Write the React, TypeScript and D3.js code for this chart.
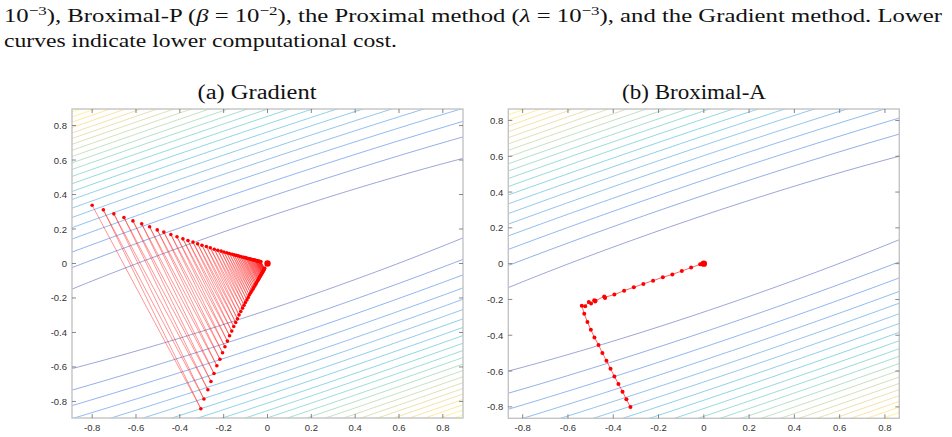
import * as d3 from "d3";
import React, { useRef, useEffect } from "react";

// axis ticks shared by both panels
const tickValues = [-0.8, -0.6, -0.4, -0.2, 0, 0.2, 0.4, 0.6, 0.8];

// objective f(x, y) = a x^2 + 2 b x y + c y^2
const quadA = 0.2056;
const quadB = -0.425;
const quadC = 1.0;

// contour levels
const contourLevels = [
  0.073, 0.146, 0.218, 0.291, 0.364, 0.437, 0.51, 0.582, 0.655, 0.728, 0.801,
  0.874, 0.946, 1.019, 1.092, 1.165, 1.238, 1.31, 1.383, 1.456, 1.529, 1.602,
  1.674, 1.747,
];

// gradient iterates, alternating between the two sides of the valley
const gradUpper = [
  [-0.8, 0.338], [-0.749, 0.311], [-0.701, 0.288], [-0.655, 0.267], [-0.614, 0.247],
  [-0.574, 0.23], [-0.538, 0.213], [-0.503, 0.195], [-0.473, 0.182], [-0.441, 0.168],
  [-0.413, 0.155], [-0.386, 0.143], [-0.363, 0.133], [-0.34, 0.124], [-0.319, 0.114],
  [-0.299, 0.106], [-0.279, 0.099], [-0.261, 0.091], [-0.243, 0.083], [-0.227, 0.077],
  [-0.212, 0.072], [-0.199, 0.067], [-0.186, 0.062], [-0.174, 0.058], [-0.162, 0.054],
  [-0.152, 0.05], [-0.142, 0.047], [-0.133, 0.044], [-0.124, 0.041], [-0.116, 0.038],
  [-0.109, 0.036], [-0.101, 0.034], [-0.095, 0.031], [-0.089, 0.029], [-0.083, 0.027],
  [-0.078, 0.026], [-0.073, 0.024], [-0.068, 0.022], [-0.063, 0.021], [-0.059, 0.02],
  [-0.055, 0.018], [-0.052, 0.017], [-0.049, 0.016], [-0.045, 0.015], [-0.042, 0.014],
  [-0.04, 0.013], [-0.037, 0.012], [-0.035, 0.011], [-0.032, 0.011], [-0.03, 0.01],
];
const gradLower = [
  [-0.304, -0.842], [-0.29, -0.786], [-0.272, -0.732], [-0.258, -0.684], [-0.244, -0.638],
  [-0.231, -0.593], [-0.217, -0.555], [-0.205, -0.518], [-0.194, -0.483], [-0.183, -0.45],
  [-0.173, -0.419], [-0.163, -0.392], [-0.154, -0.365], [-0.145, -0.342], [-0.137, -0.321],
  [-0.13, -0.298], [-0.122, -0.278], [-0.114, -0.259], [-0.107, -0.242], [-0.101, -0.226],
  [-0.094, -0.211], [-0.088, -0.197], [-0.083, -0.183], [-0.077, -0.171], [-0.072, -0.16],
  [-0.067, -0.149], [-0.063, -0.139], [-0.058, -0.13], [-0.054, -0.121], [-0.051, -0.113],
  [-0.047, -0.105], [-0.044, -0.098], [-0.041, -0.092], [-0.039, -0.086], [-0.036, -0.08],
  [-0.034, -0.074], [-0.031, -0.069], [-0.029, -0.065], [-0.027, -0.06], [-0.025, -0.056],
  [-0.024, -0.053], [-0.022, -0.049], [-0.021, -0.046], [-0.019, -0.043], [-0.018, -0.04],
  [-0.017, -0.037], [-0.016, -0.035], [-0.015, -0.032], [-0.014, -0.03], [-0.013, -0.028],
];

// Broximal-A iterates
const broximalPath = [
  [-0.324, -0.801], [-0.342, -0.758], [-0.359, -0.715], [-0.377, -0.672], [-0.395, -0.63],
  [-0.412, -0.587], [-0.43, -0.542], [-0.448, -0.499], [-0.465, -0.454], [-0.483, -0.412],
  [-0.499, -0.369], [-0.514, -0.326], [-0.528, -0.28], [-0.539, -0.235], [-0.524, -0.238],
  [-0.508, -0.214], [-0.498, -0.222], [-0.484, -0.205], [-0.48, -0.212], [-0.478, -0.207],
  [-0.44, -0.183], [-0.436, -0.192], [-0.438, -0.188], [-0.395, -0.173], [-0.352, -0.151],
  [-0.309, -0.132], [-0.267, -0.113], [-0.224, -0.095], [-0.181, -0.076], [-0.139, -0.06],
  [-0.097, -0.041], [-0.056, -0.022], [-0.016, -0.004], [-0.008, -0.002], [0.004, 0.001],
  [0, 0],
];

const parulaStops = [
  "#352a87", "#0f5cdd", "#1481d6", "#06a4ca", "#2eb7a4",
  "#87bf77", "#d1bb59", "#fec832", "#f9fb0e",
];

const panels = [
  { id: "a", title: "(a) Gradient", titleLen: 119, left: 72, right: 463, top: 109, bottom: 418, xmax: 0.892, ymax: 0.896, titleX: 257 },
  { id: "b", title: "(b) Broximal-A", titleLen: 144, left: 508.3, right: 899.3, top: 109, bottom: 418.3, xmax: 0.8635, ymax: 0.864, titleX: 694 },
];

const f = (x, y) => quadA * x * x + 2 * quadB * x * y + quadC * y * y;

function interleave(a, b) {
  const out = [];
  for (let i = 0; i < a.length; i++) {
    out.push(a[i]);
    if (b[i]) out.push(b[i]);
  }
  out.push([0, 0]);
  return out;
}

function App() {
  const ref = useRef();

  useEffect(() => {
    const svg = d3.select(ref.current);
    svg.selectAll("*").remove();

    // paper text above the figure
    const textLine = (y, len, parts) => {
      const t = svg
        .append("text")
        .attr("x", 4)
        .attr("y", y)
        .attr("font-family", "'Liberation Serif', 'DejaVu Serif', serif")
        .attr("font-size", 19)
        .attr("fill", "#111")
        .attr("textLength", len)
        .attr("lengthAdjust", "spacingAndGlyphs");
      let raised = false;
      parts.forEach((p) => {
        const s = t.append("tspan").text(p.t);
        if (p.sup) {
          s.attr("font-size", 13).attr("dy", -7);
          raised = true;
        } else if (raised) {
          s.attr("dy", 7);
          raised = false;
        }
        if (p.it) s.attr("font-style", "italic");
      });
    };
    textLine(22, 938, [
      { t: "10" }, { t: "\u22123", sup: true },
      { t: "), Broximal-P (" }, { t: "\u03b2", it: true }, { t: " = 10" }, { t: "\u22122", sup: true },
      { t: "), the Proximal method (" }, { t: "\u03bb", it: true }, { t: " = 10" }, { t: "\u22123", sup: true },
      { t: "), and the Gradient method. Lower" },
    ]);
    textLine(47, 393, [{ t: "curves indicate lower computational cost." }]);

    const defs = svg.append("defs");
    const paths = { a: interleave(gradUpper, gradLower), b: broximalPath };

    panels.forEach((p) => {
      const x = d3.scaleLinear().domain([-p.xmax, p.xmax]).range([p.left, p.right]);
      const y = d3.scaleLinear().domain([-p.ymax, p.ymax]).range([p.bottom, p.top]);

      defs
        .append("clipPath")
        .attr("id", "clip-" + p.id)
        .append("rect")
        .attr("x", p.left)
        .attr("y", p.top)
        .attr("width", p.right - p.left)
        .attr("height", p.bottom - p.top);

      // sample the objective on a grid a bit larger than the axes
      const n = 240;
      const lo = -1.05;
      const hi = 1.05;
      const step = (hi - lo) / (n - 1);
      const values = new Array(n * n);
      for (let j = 0; j < n; j++) {
        for (let i = 0; i < n; i++) {
          values[j * n + i] = f(lo + i * step, lo + j * step);
        }
      }
      const contours = d3.contours().size([n, n]).thresholds(contourLevels)(values);
      const proj = d3.geoTransform({
        point: function (gx, gy) {
          this.stream.point(x(lo + (gx - 0.5) * step), y(lo + (gy - 0.5) * step));
        },
      });
      const geo = d3.geoPath(proj);
      const zmax = f(-p.xmax, p.ymax);
      const color = d3
        .scaleSequential(d3.piecewise(d3.interpolateRgb, parulaStops))
        .domain([0, zmax]);

      const g = svg.append("g").attr("clip-path", "url(#clip-" + p.id + ")");
      g.selectAll("path.level")
        .data(contours)
        .enter()
        .append("path")
        .attr("class", "level")
        .attr("d", geo)
        .attr("fill", "none")
        .attr("stroke", (d) => color(d.value))
        .attr("stroke-width", 0.7)
        .attr("stroke-opacity", 0.68);

      // iterates
      const pts = paths[p.id];
      const line = d3
        .line()
        .x((d) => x(d[0]))
        .y((d) => y(d[1]));
      g.append("path")
        .attr("d", line(pts))
        .attr("fill", "none")
        .attr("stroke", "#ff0000")
        .attr("stroke-opacity", 0.6)
        .attr("stroke-width", p.id === "a" ? 0.7 : 1);
      g.selectAll("circle.it")
        .data(pts.slice(0, -1))
        .enter()
        .append("circle")
        .attr("class", "it")
        .attr("cx", (d) => x(d[0]))
        .attr("cy", (d) => y(d[1]))
        .attr("r", p.id === "a" ? 1.8 : 2)
        .attr("fill", "#ff0000");
      g.append("circle")
        .attr("cx", x(0))
        .attr("cy", y(0))
        .attr("r", 3.2)
        .attr("fill", "#ff0000");

      // box with inward ticks on all four sides
      const ax = svg.append("g");
      ax.append("rect")
        .attr("x", p.left)
        .attr("y", p.top)
        .attr("width", p.right - p.left)
        .attr("height", p.bottom - p.top)
        .attr("fill", "none")
        .attr("stroke", "#c4c4c4")
        .attr("stroke-width", 1.4);
      const tl = 4;
      tickValues.forEach((v) => {
        const tx = x(v);
        const ty = y(v);
        ax.append("line").attr("x1", tx).attr("x2", tx).attr("y1", p.bottom).attr("y2", p.bottom - tl);
        ax.append("line").attr("x1", tx).attr("x2", tx).attr("y1", p.top).attr("y2", p.top + tl);
        ax.append("line").attr("x1", p.left).attr("x2", p.left + tl).attr("y1", ty).attr("y2", ty);
        ax.append("line").attr("x1", p.right).attr("x2", p.right - tl).attr("y1", ty).attr("y2", ty);
      });
      ax.selectAll("line").attr("stroke", "#6a6a6a").attr("stroke-width", 0.8);

      const fmt = (v) => (v === 0 ? "0" : v.toFixed(1));
      ax.selectAll("text.xt")
        .data(tickValues)
        .enter()
        .append("text")
        .attr("class", "xt")
        .attr("x", (d) => x(d))
        .attr("y", p.bottom + 13)
        .attr("text-anchor", "middle")
        .text(fmt);
      ax.selectAll("text.yt")
        .data(tickValues)
        .enter()
        .append("text")
        .attr("class", "yt")
        .attr("x", p.left - 5)
        .attr("y", (d) => y(d) + 3.5)
        .attr("text-anchor", "end")
        .text(fmt);
      ax.selectAll("text")
        .attr("font-family", "'Liberation Sans', Arial, sans-serif")
        .attr("font-size", 9.5)
        .attr("fill", "#333");

      svg
        .append("text")
        .attr("x", p.titleX - p.titleLen / 2)
        .attr("y", 99)
        .attr("font-family", "'Liberation Serif', 'DejaVu Serif', serif")
        .attr("font-size", 20)
        .attr("fill", "#111")
        .attr("textLength", p.titleLen)
        .attr("lengthAdjust", "spacingAndGlyphs")
        .text(p.title);
    });
  }, []);

  return (
    <svg
      ref={ref}
      width={952}
      height={437}
      style={{ position: "absolute", left: 0, top: 0, background: "#fff" }}
    ></svg>
  );
}

export default App;
